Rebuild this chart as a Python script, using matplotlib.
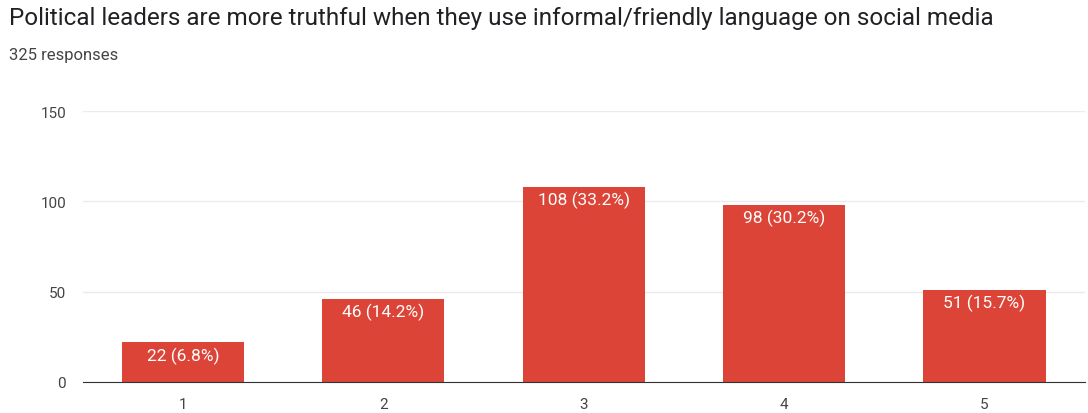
import matplotlib
matplotlib.use("Agg")
import matplotlib.pyplot as plt
import numpy as np

plt.rcParams['font.family'] = ['Roboto', 'DejaVu Sans']

categories = ["1", "2", "3", "4", "5"]
counts = [22, 46, 108, 98, 51]
percents = ["6.8%", "14.2%", "33.2%", "30.2%", "15.7%"]
title = "Political leaders are more truthful when they use informal/friendly language on social media"
subtitle = "325 responses"

fig = plt.figure(figsize=(10.88, 4.14), dpi=100)
ax = fig.add_axes([0.076, 0.075, 0.921, 0.654])

x = np.arange(len(categories))
bars = ax.bar(x, counts, width=0.61, color="#db4437", zorder=3)

for b, c, p in zip(bars, counts, percents):
    ax.annotate(f"{c} ({p})", (b.get_x() + b.get_width() / 2, b.get_height()),
                xytext=(0, -3), textcoords="offset points",
                ha="center", va="top", color="white", fontsize=12.5, zorder=4)

ax.set_xlim(-0.5, 4.5)
ax.set_ylim(0, 150)
ax.set_yticks([0, 50, 100, 150])
ax.set_xticks(x)
ax.set_xticklabels(categories)
ax.grid(axis="y", color="#ebebeb", linewidth=1, zorder=0)
for s in ["top", "right", "left"]:
    ax.spines[s].set_visible(False)
ax.spines["bottom"].set_color("#333333")
ax.spines["bottom"].set_zorder(5)
ax.tick_params(axis="both", length=0, labelsize=11, colors="#444444")
ax.tick_params(axis="y", pad=12)
ax.tick_params(axis="x", pad=11)

fig.text(0.008, 0.955, title, fontsize=17.5, color="#202124", va="center")
fig.text(0.008, 0.866, subtitle, fontsize=12, color="#444444", va="center")

fig.savefig("out.png", dpi=100)
